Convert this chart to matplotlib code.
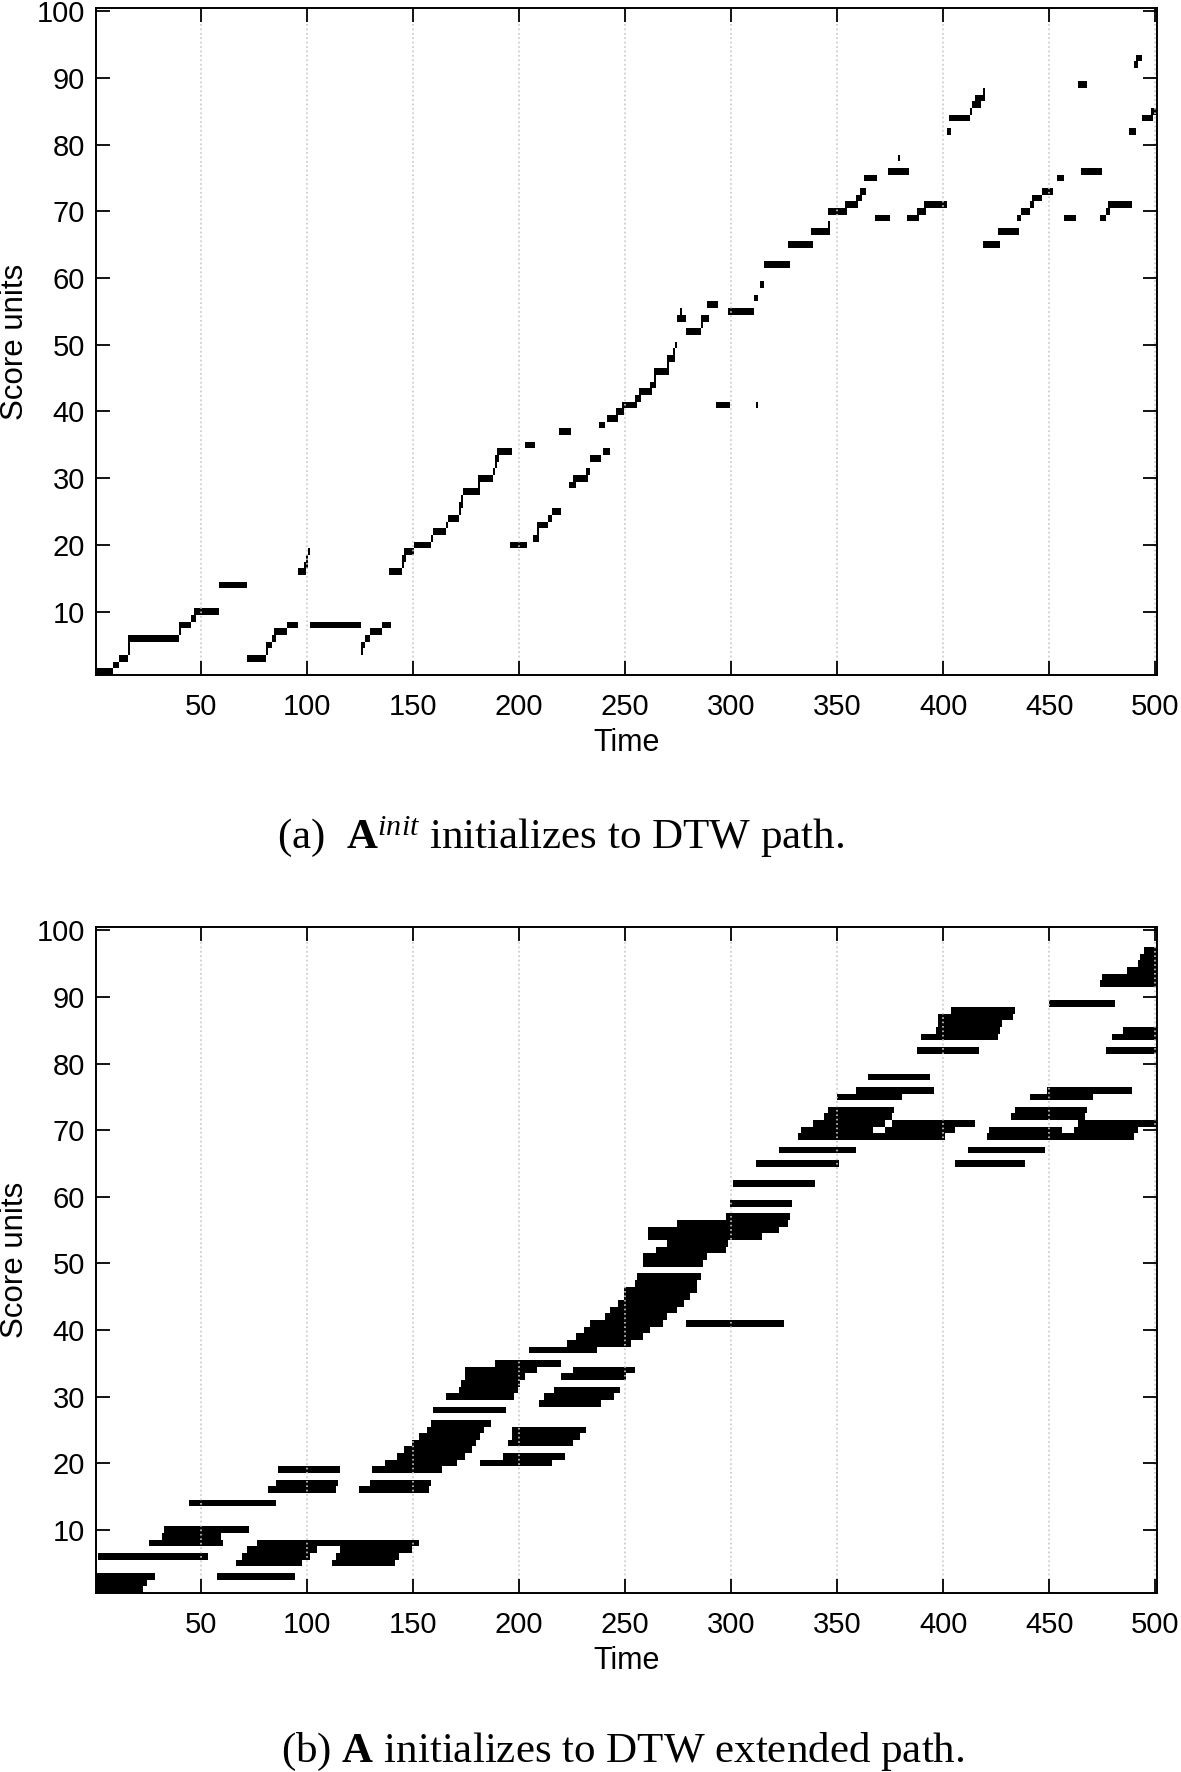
import matplotlib
matplotlib.use('Agg')
import matplotlib.pyplot as plt
import numpy as np

plt.rcParams['font.family'] = 'Liberation Sans'
plt.rcParams['mathtext.fontset'] = 'custom'
plt.rcParams['mathtext.rm'] = 'Liberation Serif'
plt.rcParams['mathtext.bf'] = 'Liberation Serif:bold'
plt.rcParams['mathtext.it'] = 'Liberation Serif:italic'

n_time = 500
n_score = 100
time_ticks = [50, 100, 150, 200, 250, 300, 350, 400, 450, 500]
score_ticks = [10, 20, 30, 40, 50, 60, 70, 80, 90, 100]

# (score unit, first time frame, last time frame) - DTW path
path_init = [
    (1, 1, 8), (2, 9, 11), (3, 12, 15), (4, 16, 16), (5, 16, 16), (6, 16, 39),
    (7, 40, 40), (8, 40, 45), (9, 46, 47), (10, 47, 58), (14, 59, 71),
    (3, 72, 80), (4, 81, 81), (5, 81, 83), (6, 84, 85), (7, 85, 90), (8, 91, 95),
    (16, 96, 99), (17, 99, 100), (18, 100, 100), (19, 101, 101), (8, 102, 125),
    (4, 126, 126), (5, 126, 127), (6, 128, 129), (7, 130, 135), (8, 136, 139),
    (16, 139, 144), (17, 145, 145), (18, 145, 146), (19, 146, 150), (20, 151, 158),
    (21, 159, 159), (22, 160, 165), (23, 166, 166), (24, 167, 171), (25, 172, 172),
    (26, 172, 173), (27, 173, 173), (28, 174, 181), (29, 181, 181), (30, 181, 187),
    (31, 188, 188), (32, 189, 189), (33, 189, 190), (34, 190, 196), (20, 196, 203),
    (35, 203, 207), (21, 207, 209), (22, 209, 209), (23, 209, 213), (24, 214, 215),
    (25, 216, 219), (37, 219, 224), (29, 224, 226), (30, 226, 232), (31, 232, 233),
    (33, 234, 238), (38, 238, 240), (34, 240, 242), (39, 242, 246), (40, 246, 249),
    (41, 249, 255), (42, 255, 257), (43, 257, 262), (44, 262, 264), (45, 264, 264),
    (46, 264, 270), (47, 270, 270), (48, 270, 273), (49, 273, 273), (50, 274, 274),
    (54, 275, 278), (55, 276, 276), (52, 279, 285), (53, 286, 286), (54, 286, 289),
    (56, 289, 293), (41, 293, 299), (55, 299, 310), (41, 312, 312), (57, 311, 312),
    (59, 314, 315), (62, 316, 327), (65, 327, 338), (67, 338, 346), (68, 346, 346),
    (70, 346, 354), (71, 354, 359), (72, 359, 361), (73, 361, 363), (75, 363, 368),
    (69, 368, 374), (76, 374, 383), (78, 379, 379), (69, 383, 388), (70, 388, 391),
    (71, 391, 401), (82, 402, 403), (84, 403, 412), (85, 413, 413), (86, 414, 417),
    (87, 415, 419), (88, 419, 419), (65, 419, 426), (67, 426, 435), (69, 435, 436),
    (70, 437, 440), (71, 441, 442), (72, 442, 446), (73, 447, 451), (75, 454, 456),
    (69, 457, 462), (89, 464, 467), (76, 465, 474), (69, 474, 476), (70, 477, 478),
    (71, 478, 488), (82, 488, 490), (92, 490, 491), (93, 491, 493), (84, 494, 498),
    (85, 498, 500),
]

# (score unit, first time frame, last time frame) - DTW extended path
path_ext = [
    (1, 1, 22), (2, 1, 24), (3, 1, 28), (3, 58, 94), (6, 2, 53),
    (5, 67, 97), (6, 70, 101), (7, 72, 104), (8, 77, 152),
    (5, 112, 141), (6, 114, 143), (7, 116, 149),
    (8, 26, 60), (9, 32, 59), (10, 33, 72), (14, 45, 85),
    (16, 82, 113), (17, 86, 114), (19, 87, 115), (16, 125, 157), (17, 130, 158),
    (19, 131, 163), (20, 137, 170), (21, 143, 174), (22, 146, 177), (23, 150, 179),
    (24, 153, 181), (25, 157, 183), (26, 159, 186), (28, 160, 193),
    (30, 166, 197), (31, 172, 199), (32, 173, 200), (33, 175, 202), (34, 175, 208),
    (35, 189, 219), (20, 182, 215), (21, 193, 221), (23, 195, 225), (24, 197, 228),
    (25, 197, 231), (29, 210, 238), (30, 212, 244), (31, 217, 247), (33, 220, 250),
    (34, 226, 254), (37, 205, 236), (38, 223, 252), (39, 227, 258), (40, 231, 261),
    (41, 234, 267), (41, 279, 324), (42, 241, 269), (43, 243, 274), (44, 247, 277),
    (45, 250, 280), (46, 250, 283), (47, 255, 283), (48, 256, 285), (50, 259, 286),
    (51, 259, 288), (52, 265, 297), (53, 270, 298), (54, 261, 314), (55, 261, 322),
    (56, 275, 326), (57, 298, 327), (59, 300, 328), (62, 301, 339), (65, 312, 350),
    (67, 323, 358), (69, 332, 400), (69, 421, 489), (70, 333, 366), (70, 373, 405),
    (70, 422, 455), (70, 462, 491), (71, 339, 372), (71, 376, 414), (71, 464, 500),
    (72, 344, 375), (72, 432, 466), (73, 346, 376), (73, 434, 467), (75, 350, 380),
    (75, 441, 470), (76, 359, 395), (76, 449, 488), (78, 365, 393), (82, 388, 416),
    (82, 477, 500), (84, 390, 425), (84, 480, 500), (85, 397, 426), (85, 485, 500),
    (86, 398, 427), (87, 398, 432), (88, 404, 433), (89, 450, 480), (92, 474, 500),
    (93, 475, 500), (94, 487, 500), (95, 492, 500), (96, 493, 500), (97, 495, 500),
    (65, 406, 438), (67, 412, 447),
]

captions = [r"(a)  $\mathbf{A}^{\mathit{init}}$ initializes to DTW path.",
            r"(b) $\mathbf{A}$ initializes to DTW extended path."]


def to_matrix(segments):
    m = np.zeros((n_score, n_time))
    for s, t0, t1 in segments:
        m[s - 1, t0 - 1:t1] = 1
    return m


def draw_panel(ax, segments):
    ax.imshow(to_matrix(segments), cmap='gray_r', vmin=0, vmax=1, origin='lower',
              extent=(0.5, n_time + 0.5, 0.5, n_score + 0.5), aspect='auto',
              interpolation='nearest')
    ax.set_xticks(time_ticks)
    ax.set_yticks(score_ticks)
    ax.set_xlim(0.5, n_time + 0.5)
    ax.set_ylim(0.5, n_score + 0.5)
    ax.xaxis.grid(True, linestyle=':', color='#c8c8c8', linewidth=1.2)
    ax.tick_params(direction='in', top=True, right=True, length=10, width=1.3,
                   labelsize=21)
    ax.tick_params(axis='x', pad=13)
    ax.tick_params(axis='y', pad=8)
    for sp in ax.spines.values():
        sp.set_linewidth(1.4)
    ax.set_xlabel('Time', fontsize=22, labelpad=5)
    ax.set_ylabel('Score units', fontsize=22.5, labelpad=5)


fig = plt.figure(figsize=(11.81, 17.72), dpi=100)
ax_a = fig.add_axes([0.0813, 0.6191, 0.898, 0.3764])
ax_b = fig.add_axes([0.0813, 0.1010, 0.898, 0.3758])
draw_panel(ax_a, path_init)
draw_panel(ax_b, path_ext)

fig.text(0.475, 0.528, captions[0], ha='center', va='center', fontsize=31,
         family='Liberation Serif')
fig.text(0.5275, 0.0113, captions[1], ha='center', va='center', fontsize=31,
         family='Liberation Serif')

fig.savefig('out.png', dpi=100)
